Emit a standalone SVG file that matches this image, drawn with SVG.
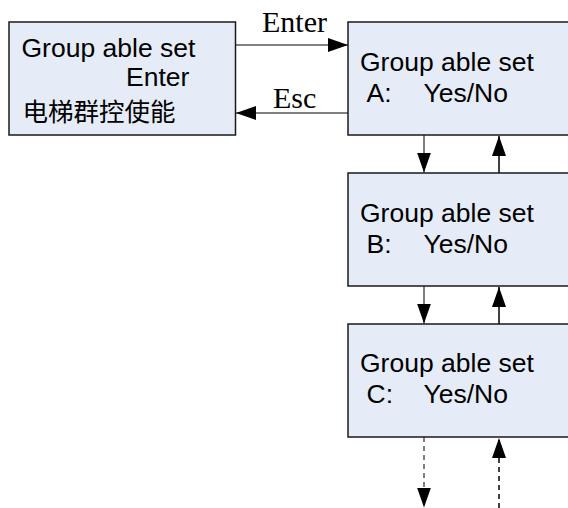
<svg xmlns="http://www.w3.org/2000/svg" width="568" height="508" viewBox="0 0 568 508">
<style>
.box{fill:#E6ECF7;stroke:#1a1a1a;stroke-width:1.5}
.t{font-family:"Liberation Sans",Arial,sans-serif;font-size:26.5px;fill:#000}
.cjk{font-family:"Noto Sans CJK SC",sans-serif;font-size:25.5px;fill:#000}
.lbl{font-family:"Liberation Serif","Times New Roman",serif;font-size:30px;fill:#000}
.g{stroke:#808080;stroke-width:2;fill:none}
.k{stroke:#000;stroke-width:1.5;fill:none}
.d{stroke-dasharray:5,4}
</style>
<defs>
<marker id="ah" markerUnits="userSpaceOnUse" markerWidth="22" markerHeight="16" refX="20" refY="7" orient="auto" viewBox="0 0 22 16">
<path d="M0,0 L20,7 L0,14 z" fill="#000"/>
</marker>
</defs>
<g id="connectors">
<line class="g" x1="236" y1="45" x2="348" y2="45" marker-end="url(#ah)"/>
<text class="lbl" x="262" y="32">Enter</text>
<line class="g" x1="348" y1="113" x2="236" y2="113" marker-end="url(#ah)"/>
<text class="lbl" x="273" y="108">Esc</text>
<line class="g" x1="424" y1="135" x2="424" y2="172.5" marker-end="url(#ah)"/>
<line class="k" x1="499" y1="173" x2="499" y2="136" marker-end="url(#ah)"/>
<line class="g" x1="424" y1="286" x2="424" y2="323.5" marker-end="url(#ah)"/>
<line class="k" x1="499" y1="324" x2="499" y2="287" marker-end="url(#ah)"/>
<line class="g d" x1="424" y1="437" x2="424" y2="507.5" marker-end="url(#ah)"/>
<line class="k d" x1="499" y1="508" x2="499" y2="438" marker-end="url(#ah)"/>
</g>
<g id="menu">
<rect class="box" x="9" y="22" width="226.5" height="113"/>
<text class="t" x="21.5" y="56.5">Group able set</text>
<text class="t" x="126" y="86">Enter</text>
<text class="cjk" x="22.5" y="120.5">电梯群控使能</text>
</g>
<g id="setA">
<rect class="box" x="348" y="22" width="224" height="113"/>
<text class="t" x="360" y="70.5">Group able set</text>
<text class="t" x="366.5" y="102">A:</text>
<text class="t" x="423.5" y="102">Yes/No</text>
</g>
<g id="setB">
<rect class="box" x="348" y="173" width="224" height="113"/>
<text class="t" x="360" y="221.5">Group able set</text>
<text class="t" x="366.5" y="253">B:</text>
<text class="t" x="423.5" y="253">Yes/No</text>
</g>
<g id="setC">
<rect class="box" x="348" y="324" width="224" height="113"/>
<text class="t" x="360" y="371.5">Group able set</text>
<text class="t" x="366.5" y="403">C:</text>
<text class="t" x="423.5" y="403">Yes/No</text>
</g>
</svg>
